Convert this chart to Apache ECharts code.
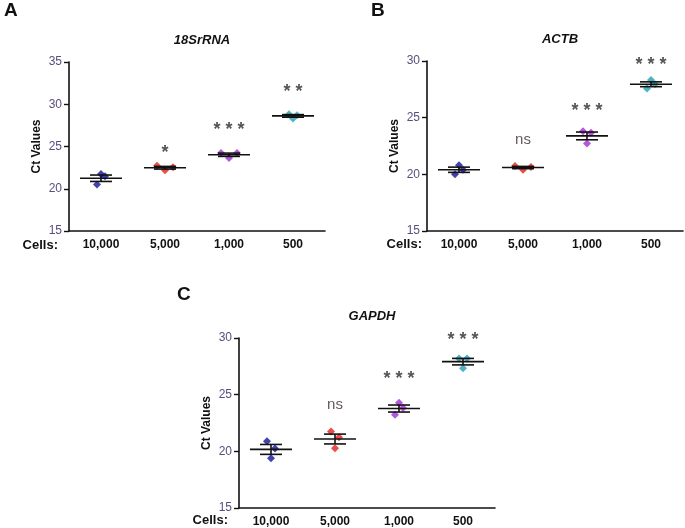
<!DOCTYPE html>
<html><head><meta charset="utf-8">
<script src="https://cdn.jsdelivr.net/npm/echarts@6/dist/echarts.min.js"></script>
<style>html,body{margin:0;padding:0;background:#fff}#c{width:685px;height:528px}</style>
</head><body><div id="c"></div>
<script>
const categories = ['10,000', '5,000', '1,000', '500'];
const groupColors = ['#12129c', '#e3201c', '#a02ed6', '#24a0b2'];

// Ct values (left, middle, right replicate within each group)
const ctA = [[20.5, 21.75, 21.48], [22.73, 22.19, 22.54], [24.22, 23.63, 24.22], [28.83, 28.32, 28.71]];
const ctB = [[20.0, 20.8, 20.41], [20.74, 20.41, 20.65], [23.8, 22.71, 23.66], [27.58, 28.32, 27.94]];
const ctC = [[20.89, 19.38, 20.24], [21.75, 20.27, 21.24], [23.22, 24.29, 23.82], [28.2, 27.34, 28.2]];

const sigA = ['', '*', '* * *', '* *'];
const sigB = ['', 'ns', '* * *', '* * *'];
const sigC = ['', 'ns', '* * *', '* * *'];
const sigYA = [null, 24.8, 27.5, 32.0];
const sigYB = [null, 23.06, 26.0, 30.1];
const sigYC = [null, 24.08, 26.8, 30.3];

const titles = ['18SrRNA', 'ACTB', 'GAPDH'];
const letters = ['A', 'B', 'C'];
const yMax = [35, 30, 30];

const panels = [
  {ct: ctA, sig: sigA, sigY: sigYA, jitter: [4, 8, 8, 4], grid: {left: 69, top: 62, width: 256, height: 169}},
  {ct: ctB, sig: sigB, sigY: sigYB, jitter: [4, 8, 4, 4], grid: {left: 427, top: 61, width: 256, height: 170}},
  {ct: ctC, sig: sigC, sigY: sigYC, jitter: [4, 4, 4, 4], grid: {left: 239, top: 338, width: 256, height: 170}}
];

function meanSem(arr) {
  const n = arr.length;
  const m = arr.reduce((a, b) => a + b, 0) / n;
  const sd = Math.sqrt(arr.reduce((a, b) => a + (b - m) * (b - m), 0) / (n - 1));
  return [m, sd / Math.sqrt(n)];
}

function renderBar(params, api) {
  const c = api.value(0), m = api.value(1), s = api.value(2);
  const p = api.coord([c, m]);
  const hi = api.coord([c, m + s]);
  const lo = api.coord([c, m - s]);
  const st = {stroke: '#111', lineWidth: 1.6};
  return {type: 'group', children: [
    {type: 'line', shape: {x1: p[0] - 21, y1: p[1], x2: p[0] + 21, y2: p[1]}, style: st},
    {type: 'line', shape: {x1: p[0], y1: hi[1], x2: p[0], y2: lo[1]}, style: st},
    {type: 'line', shape: {x1: p[0] - 11, y1: hi[1], x2: p[0] + 11, y2: hi[1]}, style: st},
    {type: 'line', shape: {x1: p[0] - 11, y1: lo[1], x2: p[0] + 11, y2: lo[1]}, style: st}
  ]};
}

const grids = [], xAxes = [], yAxes = [], series = [], titleOpts = [];
panels.forEach((P, k) => {
  grids.push(Object.assign({containLabel: false}, P.grid));
  xAxes.push({
    type: 'category', gridIndex: k, data: categories, boundaryGap: true,
    axisLine: {lineStyle: {color: '#111', width: 1.6}},
    axisTick: {alignWithLabel: true, length: 5, lineStyle: {color: '#111', width: 1.4}},
    axisLabel: {color: '#111', fontWeight: 'bold', fontSize: 12, fontFamily: 'Liberation Sans', margin: 8},
    splitLine: {show: false}
  });
  yAxes.push({
    type: 'value', gridIndex: k, min: 15, max: yMax[k], interval: 5,
    name: 'Ct Values', nameLocation: 'middle', nameGap: 26, nameRotate: 90,
    nameTextStyle: {color: '#111', fontWeight: 'bold', fontSize: 12, fontFamily: 'Liberation Sans'},
    axisLine: {show: true, lineStyle: {color: '#111', width: 1.6}},
    axisTick: {show: true, length: 5, lineStyle: {color: '#111', width: 1.4}},
    axisLabel: {color: '#5a4d7c', fontSize: 12, fontFamily: 'Liberation Sans', margin: 7},
    splitLine: {show: false}
  });
  const pts = [];
  P.ct.forEach((g, i) => {
    g.forEach((v, j) => {
      pts.push({value: [i, v], symbolOffset: [(j - 1) * P.jitter[i], 0], itemStyle: {color: groupColors[i]}});
    });
  });
  series.push({type: 'scatter', xAxisIndex: k, yAxisIndex: k, data: pts, symbol: 'diamond', symbolSize: 8, z: 2, silent: true});
  series.push({
    type: 'custom', xAxisIndex: k, yAxisIndex: k, renderItem: renderBar, z: 3, silent: true,
    data: P.ct.map((g, i) => { const ms = meanSem(g); return [i, ms[0], ms[1]]; })
  });
  series.push({
    type: 'scatter', xAxisIndex: k, yAxisIndex: k, symbolSize: 0, silent: true, z: 4, clip: false,
    data: P.sig.map((t, i) => {
      const star = t.indexOf('*') >= 0;
      return {value: [i, P.sigY[i]], label: star
        ? {formatter: t, fontSize: 18, fontWeight: 'bold', offset: [0, 5], color: '#2a2a2a'}
        : {formatter: t, fontSize: 15, color: '#3d2e2e'}};
    }).filter(d => d.value[1] !== null),
    label: {show: true, position: 'inside', fontFamily: 'Liberation Sans'}
  });
  titleOpts.push({
    text: titles[k], left: P.grid.left + P.grid.width / 2, textAlign: 'center', top: P.grid.top - 33,
    textStyle: {fontSize: 13, fontWeight: 'bold', fontStyle: 'italic', color: '#111', fontFamily: 'Liberation Sans'}
  });
});

const letterPos = [[4, 1], [371, 1], [177, 285]];
const cellsPos = [[58, 245], [422, 244], [228, 520]];
const graphics = [];
letters.forEach((L, k) => {
  graphics.push({type: 'text', left: letterPos[k][0], top: letterPos[k][1],
    style: {text: L, fontSize: 19, fontWeight: 'bold', fill: '#111', fontFamily: 'Liberation Sans'}});
  graphics.push({type: 'text', x: cellsPos[k][0], y: cellsPos[k][1],
    style: {text: 'Cells:', fontSize: 13, fontWeight: 'bold', fill: '#111', fontFamily: 'Liberation Sans', verticalAlign: 'middle', align: 'right'}});
});

const chart = echarts.init(document.getElementById('c'), null, {renderer: 'canvas'});
chart.setOption({
  animation: false,
  backgroundColor: '#fff',
  title: titleOpts,
  grid: grids, xAxis: xAxes, yAxis: yAxes, series: series,
  graphic: graphics
});
</script></body></html>
